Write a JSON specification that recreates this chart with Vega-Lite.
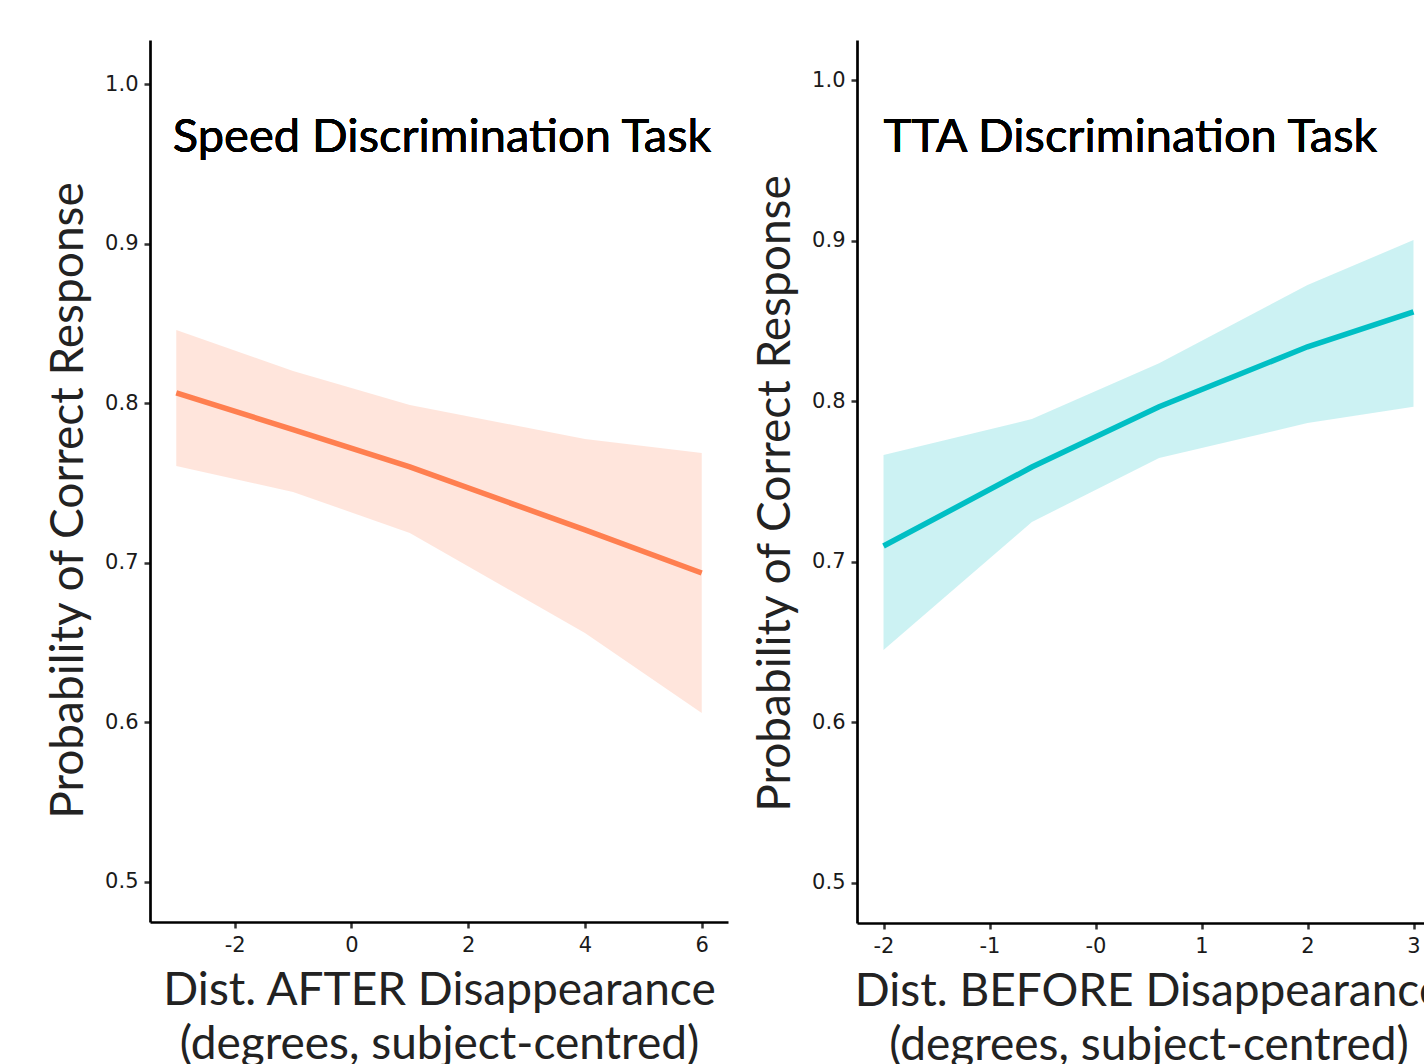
{
  "$schema": "https://vega.github.io/schema/vega-lite/v6.json",
  "background": "white",
  "padding": {"left": 45, "top": 40, "right": 0, "bottom": 0},
  "spacing": 24,
  "datasets": {
    "speed": [
      {"x": -3, "fit": 0.8064, "lo": 0.7607, "hi": 0.8459},
      {"x": -1, "fit": 0.7835, "lo": 0.7444, "hi": 0.8202},
      {"x": 1, "fit": 0.7601, "lo": 0.7187, "hi": 0.7989},
      {"x": 4, "fit": 0.7206, "lo": 0.6560, "hi": 0.7776},
      {"x": 6, "fit": 0.6936, "lo": 0.6059, "hi": 0.7688}
    ],
    "tta": [
      {"x": -2, "fit": 0.7098, "lo": 0.6451, "hi": 0.7665},
      {"x": -0.6, "fit": 0.7590, "lo": 0.7248, "hi": 0.7889},
      {"x": 0.6, "fit": 0.7966, "lo": 0.7646, "hi": 0.8236},
      {"x": 2, "fit": 0.8339, "lo": 0.7864, "hi": 0.8724},
      {"x": 3, "fit": 0.8557, "lo": 0.7966, "hi": 0.9004}
    ]
  },
  "config": {
    "font": "Lato",
    "view": {"stroke": null},
    "axis": {
      "grid": false,
      "domainColor": "#000000",
      "domainWidth": 2.7,
      "tickColor": "#333333",
      "tickWidth": 2.5,
      "tickSize": 6,
      "labelFont": "DejaVu Sans",
      "labelFontSize": 21,
      "labelColor": "#1a1a1a",
      "labelPadding": 6,
      "titleFont": "Lato",
      "titleFontSize": 46,
      "titleFontWeight": "normal",
      "titleColor": "#222222"
    }
  },
  "hconcat": [
    {
      "width": 578,
      "height": 882,
      "data": {"name": "speed"},
      "layer": [
        {
          "mark": {"type": "area", "color": "#FF7F50", "opacity": 0.2},
          "encoding": {
            "x": {"field": "x", "type": "quantitative", "scale": {"domain": [-3.45, 6.45], "nice": false, "zero": false},
              "axis": {"values": [-2, 0, 2, 4, 6], "labelExpr": "'' + datum.value", "title": ["Dist. AFTER Disappearance", "(degrees, subject-centred)"], "titleLineHeight": 54, "titlePadding": 13}},
            "y": {"field": "lo", "type": "quantitative", "scale": {"domain": [0.4749, 1.0276], "nice": false, "zero": false},
              "axis": {"values": [0.5, 0.6, 0.7, 0.8, 0.9, 1.0], "format": ".1f", "title": "Probability of Correct Response", "titlePadding": 12, "titleY": 460}},
            "y2": {"field": "hi"}
          }
        },
        {
          "mark": {"type": "line", "color": "#FF7F50", "strokeWidth": 5.5},
          "encoding": {
            "x": {"field": "x", "type": "quantitative"},
            "y": {"field": "fit", "type": "quantitative"}
          }
        },
        {
          "mark": {"type": "text", "align": "left", "baseline": "alphabetic", "fontSize": 47, "font": "Lato", "color": "#000000"},
          "encoding": {
            "x": {"datum": -3.06},
            "y": {"datum": 0.9574},
            "text": {"value": "Speed Discrimination Task"}
          }
        }
      ]
    },
    {
      "width": 583,
      "height": 883,
      "data": {"name": "tta"},
      "layer": [
        {
          "mark": {"type": "area", "color": "#00BFC4", "opacity": 0.2},
          "encoding": {
            "x": {"field": "x", "type": "quantitative", "scale": {"domain": [-2.25, 3.25], "nice": false, "zero": false},
              "axis": {"values": [-2, -1, 0, 1, 2, 3], "labelExpr": "datum.value == 0 ? '-0' : '' + datum.value", "title": ["Dist. BEFORE Disappearance", "(degrees, subject-centred)"], "titleLineHeight": 54, "titlePadding": 13}},
            "y": {"field": "lo", "type": "quantitative", "scale": {"domain": [0.475, 1.025], "nice": false, "zero": false},
              "axis": {"values": [0.5, 0.6, 0.7, 0.8, 0.9, 1.0], "format": ".1f", "title": "Probability of Correct Response", "titlePadding": 12, "titleY": 453}},
            "y2": {"field": "hi"}
          }
        },
        {
          "mark": {"type": "line", "color": "#00BFC4", "strokeWidth": 5.5},
          "encoding": {
            "x": {"field": "x", "type": "quantitative"},
            "y": {"field": "fit", "type": "quantitative"}
          }
        },
        {
          "mark": {"type": "text", "align": "left", "baseline": "alphabetic", "fontSize": 47, "font": "Lato", "color": "#000000"},
          "encoding": {
            "x": {"datum": -2.0},
            "y": {"datum": 0.9552},
            "text": {"value": "TTA Discrimination Task"}
          }
        }
      ]
    }
  ]
}
